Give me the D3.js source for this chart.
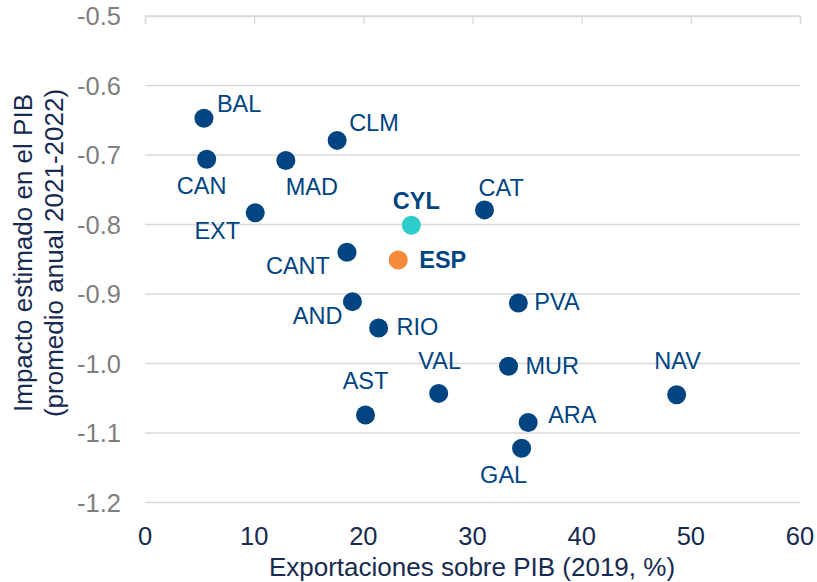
<!DOCTYPE html>
<html>
<head>
<meta charset="utf-8">
<script src="https://cdn.jsdelivr.net/npm/d3@7"></script>
<style>
  body { margin: 0; background: #fff; }
  svg { display: block; font-family: "Liberation Sans", Arial, sans-serif; }
</style>
</head>
<body>
<div id="chart"></div>
<script>
// Regions and values
const regions = ["BAL", "CAN", "MAD", "CLM", "EXT", "CYL", "ESP", "CANT", "CAT", "AND", "RIO", "PVA", "AST", "VAL", "MUR", "NAV", "ARA", "GAL"];
const exportsPct = [5.4, 5.65, 12.9, 17.6, 10.1, 24.4, 23.2, 18.5, 31.1, 19.0, 21.4, 34.2, 20.2, 26.9, 33.3, 48.7, 35.1, 34.5];
const impactGdp = [-0.647, -0.706, -0.708, -0.679, -0.783, -0.801, -0.851, -0.840, -0.779, -0.911, -0.949, -0.913, -1.074, -1.043, -1.004, -1.045, -1.085, -1.122];
const xTicks = [0, 10, 20, 30, 40, 50, 60];
const yTicks = [-0.5, -0.6, -0.7, -0.8, -0.9, -1.0, -1.1, -1.2];

// Label placement relative to each point: [dx, dy, anchor]
const labelPlace = {
  BAL: [13, -14, "start"], CAN: [-5, 27, "middle"], MAD: [26, 26, "middle"],
  CLM: [12, -17, "start"], EXT: [-38, 18, "middle"], CYL: [5, -24, "middle"],
  ESP: [21, 0, "start"], CANT: [-49, 14, "middle"], CAT: [-6, -22, "start"],
  AND: [-10, 14, "end"], RIO: [18, -1, "start"], PVA: [16, -1, "start"],
  AST: [0, -34, "middle"], VAL: [1, -32, "middle"], MUR: [17, 0, "start"],
  NAV: [1, -34, "middle"], ARA: [20, -8, "start"], GAL: [-18, 27, "middle"]
};

const width = 817, height = 582;
const margin = { top: 16, right: 17, bottom: 80, left: 145 };

const svg = d3.select("#chart").append("svg")
  .attr("width", width)
  .attr("height", height);

const x = d3.scaleLinear().domain([0, 60]).range([margin.left, width - margin.right]);
const y = d3.scaleLinear().domain([-0.5, -1.2]).range([margin.top, 502.5]);

// horizontal gridlines
svg.append("g")
  .selectAll("line")
  .data(yTicks)
  .join("line")
  .attr("x1", x(0))
  .attr("x2", x(60))
  .attr("y1", d => y(d))
  .attr("y2", d => y(d))
  .attr("stroke", "#d9d9d9")
  .attr("stroke-width", 1.3);

// x axis sits at the top (crosses at -0.5), ticks pointing down
const xAxis = svg.append("g")
  .attr("transform", `translate(0,${y(-0.5)})`)
  .call(d3.axisBottom(x).tickValues(xTicks).tickSize(8).tickFormat(""));
xAxis.select(".domain").attr("stroke", "#d9d9d9").attr("stroke-width", 1.3);
xAxis.selectAll(".tick line").attr("stroke", "#d9d9d9").attr("stroke-width", 1.3);

// x tick labels at the bottom
svg.append("g")
  .selectAll("text")
  .data(xTicks)
  .join("text")
  .attr("x", d => x(d))
  .attr("y", 536)
  .attr("text-anchor", "middle")
  .attr("dominant-baseline", "central")
  .attr("fill", "#172a4f")
  .style("font-size", "25.5px")
  .text(d => d);

// y tick labels
svg.append("g")
  .selectAll("text")
  .data(yTicks)
  .join("text")
  .attr("x", 121)
  .attr("y", d => y(d))
  .attr("text-anchor", "end")
  .attr("dominant-baseline", "central")
  .attr("fill", "#7f7f7f")
  .style("font-size", "25.5px")
  .text(d => d3.format(".1f")(d).replace("−", "-"));

// axis titles
svg.append("text")
  .attr("x", 472)
  .attr("y", 567)
  .attr("text-anchor", "middle")
  .attr("dominant-baseline", "central")
  .attr("fill", "#172a4f")
  .style("font-size", "26px")
  .text("Exportaciones sobre PIB (2019, %)");

const yTitle = svg.append("text")
  .attr("transform", "translate(0,253) rotate(-90)")
  .attr("text-anchor", "middle")
  .attr("fill", "#172a4f")
  .style("font-size", "26px");
yTitle.append("tspan").attr("x", 0).attr("y", 32).text("Impacto estimado en el PIB");
yTitle.append("tspan").attr("x", 0).attr("y", 63).text("(promedio anual 2021-2022)");

const pts = regions.map((r, i) => ({ name: r, ex: exportsPct[i], imp: impactGdp[i] }));
const colorOf = d => d.name === "CYL" ? "#2dcccd" : d.name === "ESP" ? "#f7893b" : "#004481";

// points
svg.append("g")
  .selectAll("circle")
  .data(pts)
  .join("circle")
  .attr("cx", d => x(d.ex))
  .attr("cy", d => y(d.imp))
  .attr("r", 9.5)
  .attr("fill", colorOf);

// point labels
svg.append("g")
  .selectAll("text")
  .data(pts)
  .join("text")
  .attr("x", d => x(d.ex) + labelPlace[d.name][0])
  .attr("y", d => y(d.imp) + labelPlace[d.name][1])
  .attr("text-anchor", d => labelPlace[d.name][2])
  .attr("dominant-baseline", "central")
  .attr("fill", "#004481")
  .style("font-size", "23.5px")
  .style("font-weight", d => (d.name === "CYL" || d.name === "ESP") ? "bold" : "normal")
  .text(d => d.name);
</script>
</body>
</html>
